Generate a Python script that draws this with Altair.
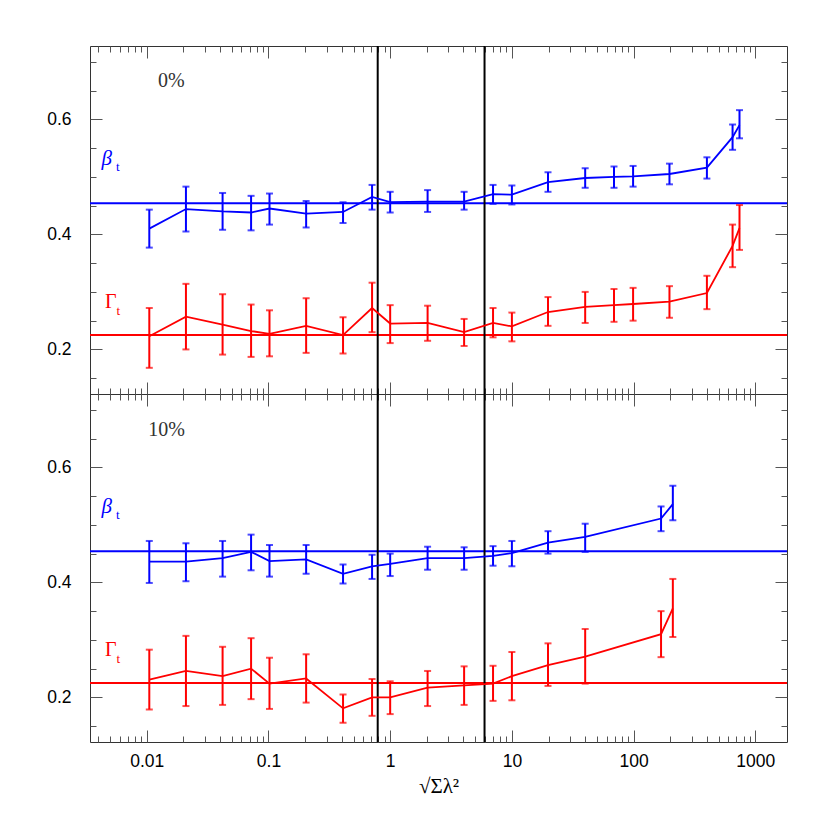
import altair as alt
import pandas as pd

# ---------------- data ----------------
x_top = [0.0105, 0.021, 0.042, 0.072, 0.102, 0.204, 0.41, 0.71, 1.0, 2.03, 4.05,
         7.0, 10.0, 19.8, 40.0, 69.0, 99.0, 197.0, 400.0, 650.0, 741.0]
beta_top = [0.410, 0.444, 0.440, 0.438, 0.445, 0.436, 0.439, 0.465, 0.456, 0.457, 0.457,
            0.470, 0.469, 0.491, 0.498, 0.500, 0.501, 0.505, 0.516, 0.569, 0.590]
beta_top_hi = [0.443, 0.483, 0.472, 0.467, 0.471, 0.458, 0.456, 0.486, 0.474, 0.477, 0.474,
               0.486, 0.485, 0.508, 0.515, 0.518, 0.519, 0.523, 0.534, 0.591, 0.616]
beta_top_lo = [0.377, 0.405, 0.408, 0.407, 0.417, 0.412, 0.420, 0.443, 0.438, 0.439, 0.443,
               0.453, 0.452, 0.474, 0.481, 0.481, 0.483, 0.487, 0.497, 0.547, 0.567]
gam_top = [0.223, 0.257, 0.243, 0.232, 0.227, 0.241, 0.225, 0.272, 0.245, 0.246, 0.230,
           0.246, 0.240, 0.265, 0.274, 0.277, 0.279, 0.283, 0.298, 0.380, 0.411]
gam_top_hi = [0.272, 0.314, 0.296, 0.278, 0.268, 0.289, 0.256, 0.316, 0.277, 0.276, 0.253,
              0.272, 0.264, 0.291, 0.300, 0.305, 0.307, 0.310, 0.328, 0.417, 0.451]
gam_top_lo = [0.168, 0.200, 0.191, 0.187, 0.188, 0.194, 0.193, 0.230, 0.211, 0.215, 0.206,
              0.221, 0.214, 0.241, 0.246, 0.248, 0.250, 0.255, 0.270, 0.343, 0.373]

x_bot = [0.0105, 0.021, 0.042, 0.072, 0.102, 0.204, 0.41, 0.71, 1.0, 2.03, 4.05,
         7.0, 10.0, 19.8, 40.0, 168.0, 210.0]
beta_bot = [0.436, 0.436, 0.442, 0.453, 0.437, 0.440, 0.415, 0.428, 0.432, 0.442, 0.442,
            0.446, 0.451, 0.469, 0.479, 0.511, 0.536]
beta_bot_hi = [0.472, 0.468, 0.472, 0.483, 0.465, 0.465, 0.431, 0.448, 0.450, 0.462, 0.461,
               0.463, 0.472, 0.489, 0.502, 0.532, 0.568]
beta_bot_lo = [0.399, 0.402, 0.410, 0.421, 0.410, 0.415, 0.398, 0.406, 0.411, 0.422, 0.422,
               0.429, 0.428, 0.450, 0.453, 0.489, 0.508]
gam_bot = [0.231, 0.246, 0.237, 0.250, 0.224, 0.233, 0.181, 0.200, 0.200, 0.217, 0.221,
           0.224, 0.237, 0.256, 0.271, 0.310, 0.355]
gam_bot_hi = [0.283, 0.307, 0.288, 0.303, 0.269, 0.275, 0.205, 0.232, 0.228, 0.246, 0.254,
              0.255, 0.279, 0.294, 0.319, 0.350, 0.406]
gam_bot_lo = [0.179, 0.185, 0.187, 0.197, 0.180, 0.191, 0.156, 0.168, 0.171, 0.185, 0.187,
              0.194, 0.195, 0.220, 0.224, 0.270, 0.305]

beta_ref = [0.454]
gam_ref = [0.225]
v_lines = [0.79, 5.96]

panel_labels = ["0%", "10%"]
panel_label_x = [0.0124, 0.01027]
panel_label_y = [0.656, 0.655]

sym_beta = ["β"]
sym_gamma = ["Γ"]
sub_text = ["t"]
beta_lab_x, beta_lab_y = [0.00425], [0.521]
beta_sub_x, beta_sub_y = [0.0056], [0.511]
gam_lab_x, gam_lab_y = [0.00455], [0.2724]
gam_sub_x, gam_sub_y = [0.00565], [0.260]

x_major = [0.01, 0.1, 1, 10, 100, 1000]
x_minor = [m * 10.0 ** e for e in range(-3, 4) for m in range(2, 10)
           if 0.00342 <= m * 10.0 ** e <= 1820]
y_major = [0.2, 0.4, 0.6]
y_minor = [0.15, 0.25, 0.3, 0.35, 0.45, 0.5, 0.55, 0.65, 0.7]

# ---------------- styling / layout ----------------
W = 697          # plot width
HT = 696         # both panels together
HB = 348         # boundary between the panels (px from top)
XS = alt.Scale(type="log", domain=[0.00342, 1820], nice=False)
YDOM = [0.1225, 0.7275]
BLUE, RED = "#0000ff", "#ff0000"
TICK = "#555555"
BIG, SMALL = 12, 6


def tax(orient, values, size, offset, domain=False):
    kw = dict(orient=orient, offset=offset, values=values, tickSize=size,
              labels=False, domain=domain, grid=False, title=None,
              tickColor=TICK, tickWidth=1, ticks=True)
    if domain:
        kw.update(domainColor="#333333", domainWidth=1)
    return alt.Axis(**kw)


def X(axis=None):
    if axis is None:
        return alt.X("x:Q", scale=XS, axis=None)
    return alt.X("x:Q", scale=XS, axis=axis)


main_x = alt.Axis(orient="bottom", values=x_major, format="~g", ticks=False, tickSize=0,
                  domain=False, grid=False, labelPadding=10, labelOverlap=False,
                  title="√Σλ²", titleFont="Liberation Serif", titleFontSize=21,
                  titleFontWeight="normal", titlePadding=6, titleColor="black")

# x axes (inward ticks) to distribute over layers
x_axes_top = [
    main_x,
    tax("bottom", x_major, BIG, -HT),          # top edge, ticks down
    tax("bottom", x_minor, SMALL, -HT),
    tax("top", x_major, BIG, -HT),             # bottom edge, ticks up
    tax("top", x_minor, SMALL, -HT),
]
x_axes_bot = [
    tax("top", x_major, BIG, -HB, domain=True),  # boundary, ticks up + frame line
    tax("top", x_minor, SMALL, -HB),
    tax("bottom", x_major, BIG, -(HT - HB)),     # boundary, ticks down
    tax("bottom", x_minor, SMALL, -(HT - HB)),
    None,
]


def panel_layers(xv, b, bhi, blo, g, ghi, glo, idx, yrange, xaxes):
    ys = alt.Scale(domain=YDOM, range=yrange, nice=False, zero=False)

    def Y(field, axis=None):
        if axis is None:
            return alt.Y(f"{field}:Q", scale=ys, axis=None)
        return alt.Y(f"{field}:Q", scale=ys, axis=axis)

    main_y = alt.Axis(orient="left", values=y_major, format=".1f", ticks=False, tickSize=0,
                      domain=False, grid=False, labelPadding=19, title=None)
    y_axes = [
        main_y,
        tax("right", y_major, BIG, -W),   # left edge, ticks right
        tax("right", y_minor, SMALL, -W),
        tax("left", y_major, BIG, -W),    # right edge, ticks left
        tax("left", y_minor, SMALL, -W),
    ]

    db = pd.DataFrame({"x": xv, "y": b, "hi": bhi, "lo": blo})
    dg = pd.DataFrame({"x": xv, "y": g, "hi": ghi, "lo": glo})

    hl_b = alt.Chart(pd.DataFrame({"y": beta_ref})).mark_rule(color=BLUE, strokeWidth=2).encode(
        y=Y("y"))
    hl_g = alt.Chart(pd.DataFrame({"y": gam_ref})).mark_rule(color=RED, strokeWidth=2).encode(
        y=Y("y"))

    b_line = alt.Chart(db).mark_line(color=BLUE, strokeWidth=1.8).encode(
        x=X(xaxes[0]), y=Y("y", y_axes[0]))
    b_err = alt.Chart(db).mark_rule(color=BLUE, strokeWidth=2).encode(
        x=X(xaxes[1]), y=Y("lo", y_axes[1]), y2="hi:Q")
    b_clo = alt.Chart(db).mark_tick(color=BLUE, orient="horizontal", size=7, thickness=2).encode(
        x=X(xaxes[2]), y=Y("lo", y_axes[2]))
    b_chi = alt.Chart(db).mark_tick(color=BLUE, orient="horizontal", size=7, thickness=2).encode(
        x=X(xaxes[3]), y=Y("hi", y_axes[3]))
    g_line = alt.Chart(dg).mark_line(color=RED, strokeWidth=1.8).encode(
        x=X(xaxes[4]), y=Y("y", y_axes[4]))
    g_err = alt.Chart(dg).mark_rule(color=RED, strokeWidth=2).encode(
        x=X(), y=Y("lo"), y2="hi:Q")
    g_clo = alt.Chart(dg).mark_tick(color=RED, orient="horizontal", size=7, thickness=2).encode(
        x=X(), y=Y("lo"))
    g_chi = alt.Chart(dg).mark_tick(color=RED, orient="horizontal", size=7, thickness=2).encode(
        x=X(), y=Y("hi"))

    pct = alt.Chart(pd.DataFrame({"x": [panel_label_x[idx]], "y": [panel_label_y[idx]],
                                  "t": [panel_labels[idx]]})).mark_text(
        font="Liberation Serif", fontSize=20, color="#333333", align="left",
        baseline="alphabetic").encode(x=X(), y=Y("y"), text="t:N")
    bsym = alt.Chart(pd.DataFrame({"x": beta_lab_x, "y": beta_lab_y, "t": sym_beta})).mark_text(
        font="Liberation Serif", fontSize=21, fontStyle="italic", color=BLUE, align="left",
        baseline="alphabetic").encode(x=X(), y=Y("y"), text="t:N")
    bsub = alt.Chart(pd.DataFrame({"x": beta_sub_x, "y": beta_sub_y, "t": sub_text})).mark_text(
        font="Liberation Serif", fontSize=13, color=BLUE, align="left",
        baseline="alphabetic").encode(x=X(), y=Y("y"), text="t:N")
    gsym = alt.Chart(pd.DataFrame({"x": gam_lab_x, "y": gam_lab_y, "t": sym_gamma})).mark_text(
        font="Liberation Serif", fontSize=20, color=RED, align="left",
        baseline="alphabetic").encode(x=X(), y=Y("y"), text="t:N")
    gsub = alt.Chart(pd.DataFrame({"x": gam_sub_x, "y": gam_sub_y, "t": sub_text})).mark_text(
        font="Liberation Serif", fontSize=13, color=RED, align="left",
        baseline="alphabetic").encode(x=X(), y=Y("y"), text="t:N")

    back = [hl_b, hl_g]
    front = [b_line, b_err, b_clo, b_chi, g_line, g_err, g_clo, g_chi,
             pct, bsym, bsub, gsym, gsub]
    return back, front


tb, tf = panel_layers(x_top, beta_top, beta_top_hi, beta_top_lo, gam_top, gam_top_hi,
                      gam_top_lo, 0, [HB, 0], x_axes_top)
bb, bf = panel_layers(x_bot, beta_bot, beta_bot_hi, beta_bot_lo, gam_bot, gam_bot_hi,
                      gam_bot_lo, 1, [HT, HB], x_axes_bot)

vl = alt.Chart(pd.DataFrame({"x": v_lines})).mark_rule(color="black", strokeWidth=2).encode(
    x=X())

chart = alt.layer(*tb, *bb, vl, *tf, *bf).resolve_scale(
    y="independent"
).resolve_axis(
    x="independent", y="independent"
).properties(
    width=W, height=HT,
    padding={"left": 38, "top": 37, "right": 5, "bottom": 5},
).configure_view(stroke="#333333", strokeWidth=1).configure_axis(
    labelFont="Liberation Sans", labelFontSize=17.5, labelColor="black"
)

chart.save("out.html", embed_options={"renderer": "svg", "actions": False})
